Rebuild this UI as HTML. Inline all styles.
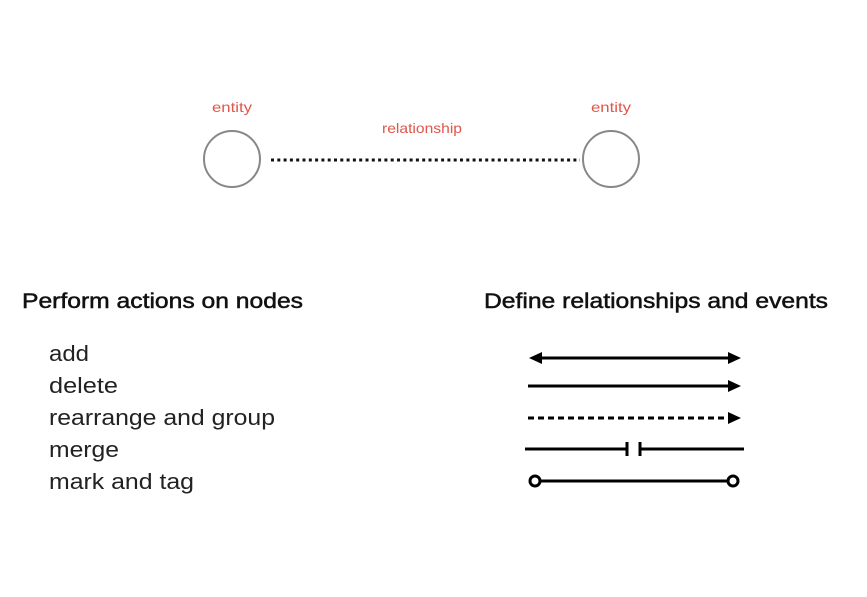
<!DOCTYPE html>
<html><head><meta charset="utf-8"><style>html,body{margin:0;padding:0;background:#fff}svg{display:block}</style></head>
<body>
<svg width="867" height="597" viewBox="0 0 867 597" xmlns="http://www.w3.org/2000/svg" font-family="Liberation Sans, sans-serif">
<rect width="867" height="597" fill="#fff"/>
<g fill="#e0564a" font-size="14">
<text x="232" y="112" text-anchor="middle" textLength="40" lengthAdjust="spacingAndGlyphs">entity</text>
<text x="611" y="112" text-anchor="middle" textLength="40" lengthAdjust="spacingAndGlyphs">entity</text>
<text x="422" y="133" text-anchor="middle" textLength="80" lengthAdjust="spacingAndGlyphs">relationship</text>
</g>
<circle cx="232" cy="159" r="28" fill="none" stroke="#888" stroke-width="2"/>
<circle cx="611" cy="159" r="28" fill="none" stroke="#888" stroke-width="2"/>
<line x1="271" y1="160" x2="580" y2="160" stroke="#111" stroke-width="3" stroke-dasharray="3 3.3"/>
<g fill="#111" stroke="#111" stroke-width="0.5" font-size="21">
<text x="22" y="308" textLength="281" lengthAdjust="spacingAndGlyphs">Perform actions on nodes</text>
<text x="484" y="308" textLength="344" lengthAdjust="spacingAndGlyphs">Define relationships and events</text>
</g>
<g fill="#222" font-size="22">
<text x="49" y="361" textLength="40" lengthAdjust="spacingAndGlyphs">add</text>
<text x="49" y="393" textLength="69" lengthAdjust="spacingAndGlyphs">delete</text>
<text x="49" y="425" textLength="226" lengthAdjust="spacingAndGlyphs">rearrange and group</text>
<text x="49" y="457" textLength="70" lengthAdjust="spacingAndGlyphs">merge</text>
<text x="49" y="489" textLength="145" lengthAdjust="spacingAndGlyphs">mark and tag</text>
</g>
<g stroke="#000" stroke-width="3" fill="#000">
<line x1="540" y1="358" x2="730" y2="358"/>
<polygon points="529,358 542,352 542,364" stroke="none"/>
<polygon points="741,358 728,352 728,364" stroke="none"/>
<line x1="528" y1="386" x2="730" y2="386"/>
<polygon points="741,386 728,380 728,392" stroke="none"/>
<line x1="528" y1="418" x2="728" y2="418" stroke-dasharray="6 4"/>
<polygon points="741,418 728,412 728,424" stroke="none"/>
<line x1="525" y1="449" x2="627" y2="449"/>
<line x1="627" y1="442" x2="627" y2="456"/>
<line x1="640" y1="442" x2="640" y2="456"/>
<line x1="640" y1="449" x2="744" y2="449"/>
<line x1="540" y1="481" x2="728" y2="481"/>
<circle cx="535" cy="481" r="5" fill="#fff"/>
<circle cx="733" cy="481" r="5" fill="#fff"/>
</g>
</svg>
</body></html>
